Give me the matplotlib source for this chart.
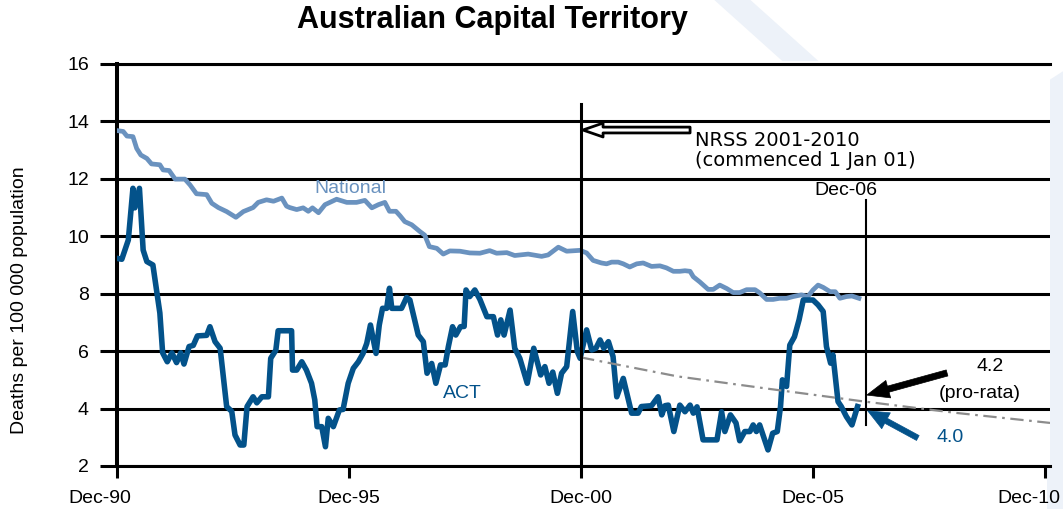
import matplotlib.pyplot as plt
from matplotlib.patches import Polygon
from matplotlib.transforms import ScaledTranslation

plt.rcParams["font.family"] = ["Liberation Sans", "DejaVu Sans"]

# Tasa móvil de 12 meses del ACT, vértices (años decimales)
act_years = [1990.92, 1991.02, 1991.16, 1991.26, 1991.30, 1991.40, 1991.48, 1991.56,
             1991.69, 1991.84, 1991.90, 1992.00, 1992.10, 1992.20, 1992.29, 1992.36,
             1992.47, 1992.56, 1992.65, 1992.85, 1992.92, 1993.03, 1993.14, 1993.28,
             1993.39, 1993.46, 1993.57, 1993.65, 1993.72, 1993.85, 1993.93, 1994.04,
             1994.18, 1994.23, 1994.34, 1994.39, 1994.68, 1994.70, 1994.79, 1994.90,
             1995.00, 1995.11, 1995.18, 1995.23, 1995.33, 1995.41, 1995.47, 1995.58,
             1995.71, 1995.79, 1995.90, 1996.01, 1996.12, 1996.22, 1996.30, 1996.38,
             1996.50, 1996.57, 1996.64, 1996.73, 1996.79, 1996.84, 1997.05, 1997.16,
             1997.23, 1997.41, 1997.52, 1997.60, 1997.70, 1997.79, 1997.89, 1997.99,
             1998.06, 1998.15, 1998.22, 1998.32, 1998.40, 1998.44, 1998.52, 1998.63,
             1998.74, 1998.89, 1999.03, 1999.12, 1999.19, 1999.26, 1999.39, 1999.49,
             1999.60, 1999.76, 1999.90, 2000.05, 2000.14, 2000.23, 2000.31, 2000.41,
             2000.50, 2000.61, 2000.74, 2000.84, 2000.90, 2001.04, 2001.15, 2001.24,
             2001.33, 2001.41, 2001.51, 2001.61, 2001.69, 2001.83, 2002.01, 2002.15,
             2002.22, 2002.44, 2002.58, 2002.66, 2002.73, 2002.80, 2002.92, 2003.05,
             2003.16, 2003.27, 2003.34, 2003.42, 2003.55, 2003.85, 2003.95, 2004.02,
             2004.14, 2004.26, 2004.34, 2004.45, 2004.56, 2004.63, 2004.70, 2004.77,
             2004.84, 2004.95, 2005.05, 2005.15, 2005.22, 2005.26, 2005.35, 2005.42,
             2005.52, 2005.62, 2005.71, 2005.92, 2006.03, 2006.14, 2006.21, 2006.30,
             2006.35, 2006.46, 2006.53, 2006.64, 2006.76, 2006.88]
act_rate = [9.23, 9.20, 9.87, 11.67, 10.99, 11.67, 9.52, 9.12,
            9.00, 7.33, 5.94, 5.63, 5.94, 5.60, 5.94, 5.55,
            6.16, 6.20, 6.53, 6.55, 6.85, 6.33, 6.10, 4.07,
            3.90, 3.08, 2.73, 2.73, 4.07, 4.41, 4.20, 4.41,
            4.41, 5.75, 6.03, 6.71, 6.71, 5.34, 5.34, 5.63,
            5.34, 4.88, 4.30, 3.37, 3.37, 2.67, 3.66, 3.37,
            3.95, 3.97, 4.88, 5.40, 5.63, 5.92, 6.27, 6.91,
            5.92, 6.91, 7.49, 7.49, 8.19, 7.49, 7.49, 7.87,
            7.78, 6.56, 6.33, 5.23, 5.57, 4.88, 5.52, 5.52,
            6.16, 6.85, 6.56, 6.85, 6.86, 8.13, 7.90, 8.13,
            7.80, 7.20, 7.20, 6.56, 7.09, 6.56, 7.43, 6.10,
            5.75, 4.88, 6.10, 5.17, 5.46, 4.88, 5.27, 4.53,
            5.23, 5.46, 7.38, 5.98, 5.75, 6.74, 6.04, 6.10,
            6.39, 6.10, 6.33, 5.81, 4.41, 5.05, 3.84, 3.84,
            4.07, 4.10, 4.41, 3.78, 4.10, 4.12, 3.20, 4.12,
            3.89, 4.12, 3.84, 4.06, 2.91, 2.91, 3.89, 3.20,
            3.78, 3.50, 2.88, 3.20, 3.20, 3.43, 3.20, 3.43,
            3.09, 2.56, 3.14, 3.20, 4.07, 5.00, 4.77, 6.21,
            6.50, 7.09, 7.78, 7.78, 7.61, 7.38, 6.16, 5.58,
            5.87, 4.24, 4.07, 3.72, 3.43, 4.07]

# Tasa nacional, misma lectura
national_years = [1990.92, 1991.05, 1991.13, 1991.26, 1991.34, 1991.43, 1991.56, 1991.66,
                  1991.84, 1991.91, 1992.04, 1992.17, 1992.38, 1992.49, 1992.63, 1992.85,
                  1992.96, 1993.10, 1993.28, 1993.48, 1993.64, 1993.85, 1993.96, 1994.14,
                  1994.29, 1994.47, 1994.57, 1994.64, 1994.79, 1994.93, 1995.04, 1995.13,
                  1995.26, 1995.40, 1995.65, 1995.87, 1996.08, 1996.26, 1996.41, 1996.55,
                  1996.69, 1996.79, 1996.93, 1997.02, 1997.12, 1997.27, 1997.45, 1997.55,
                  1997.65, 1997.81, 1997.95, 1998.09, 1998.31, 1998.52, 1998.74, 1998.95,
                  1999.10, 1999.32, 1999.49, 1999.78, 2000.07, 2000.21, 2000.43, 2000.61,
                  2000.90, 2001.04, 2001.18, 2001.36, 2001.47, 2001.58, 2001.72, 2001.83,
                  2001.97, 2002.12, 2002.26, 2002.44, 2002.62, 2002.76, 2002.91, 2003.05,
                  2003.16, 2003.27, 2003.34, 2003.48, 2003.66, 2003.77, 2003.91, 2004.06,
                  2004.20, 2004.34, 2004.49, 2004.67, 2004.77, 2004.92, 2005.06, 2005.20,
                  2005.35, 2005.49, 2005.67, 2005.81, 2005.92, 2006.03, 2006.14, 2006.29,
                  2006.40, 2006.50, 2006.64, 2006.76, 2006.91]
national_rate = [13.68, 13.65, 13.49, 13.47, 13.06, 12.83, 12.71, 12.52,
                 12.49, 12.31, 12.29, 11.99, 11.99, 11.79, 11.48, 11.45,
                 11.15, 11.00, 10.86, 10.66, 10.86, 11.00, 11.18, 11.27,
                 11.22, 11.33, 11.05, 11.00, 10.93, 10.99, 10.87, 10.99,
                 10.82, 11.10, 11.29, 11.18, 11.18, 11.25, 10.99, 11.10,
                 11.18, 10.87, 10.87, 10.71, 10.51, 10.40, 10.16, 10.04,
                 9.64, 9.58, 9.38, 9.49, 9.48, 9.42, 9.41, 9.50,
                 9.41, 9.43, 9.33, 9.38, 9.30, 9.35, 9.62, 9.48,
                 9.51, 9.42, 9.16, 9.07, 9.04, 9.10, 9.10, 9.04,
                 8.93, 9.04, 9.07, 8.95, 8.97, 8.90, 8.78, 8.78,
                 8.80, 8.78, 8.59, 8.41, 8.15, 8.15, 8.30, 8.18,
                 8.04, 8.04, 8.14, 8.14, 8.03, 7.80, 7.80, 7.84,
                 7.84, 7.90, 7.96, 7.90, 8.13, 8.30, 8.22, 8.07,
                 8.07, 7.84, 7.90, 7.92, 7.84]

# Trayectoria objetivo NRSS (pro-rata)
target_years = [2000.92, 2003.00, 2005.00, 2007.00, 2009.00, 2011.03]
target_rate = [5.78, 5.12, 4.68, 4.25, 3.85, 3.50]

tick_years = [1990.917, 1995.917, 2000.917, 2005.917, 2010.917]
tick_labels = ["Dec-90", "Dec-95", "Dec-00", "Dec-05", "Dec-10"]
y_ticks = [2, 4, 6, 8, 10, 12, 14, 16]

act_color = "#03528a"
national_color = "#6a92bf"

fig = plt.figure(figsize=(10.63, 5.09), dpi=100)

# Marca de agua tenue detrás de todo
wm = "#edf2f9"
for pts in ([(0.672, 1.0), (0.706, 1.0), (0.770, 0.88), (0.736, 0.88)],
            [(0.985, 0.84), (1.0, 0.86), (1.0, 0.0), (0.985, 0.0)]):
    fig.patches.append(Polygon(pts, closed=True, transform=fig.transFigure,
                               fc=wm, ec="none", zorder=-1))

ax = fig.add_axes([0.1101, 0.0845, 0.8777, 0.7898])
ax.patch.set_facecolor("white")

ax.plot(national_years, national_rate, color=national_color, lw=3.4,
        solid_joinstyle="round", zorder=3)
ax.plot(act_years, act_rate, color=act_color, lw=4.0,
        solid_joinstyle="round", zorder=3)
ax.plot(target_years, target_rate, color="#8c8c8c", lw=1.6,
        dashes=(6, 2.5, 1.2, 2.5), zorder=3)

ax.set_xlim(1990.917, 2011.03)
ax.set_ylim(2, 16)
ax.set_xticks(tick_years, tick_labels)
ax.set_yticks(y_ticks)
ax.yaxis.grid(True, color="black", lw=2.2)
ax.set_axisbelow(True)
ax.tick_params(axis="x", direction="out", length=8.6, width=2.2, pad=9, labelsize=14)
ax.tick_params(axis="y", direction="out", length=12.2, width=2.2, pad=8, labelsize=14)
ax.spines["right"].set_visible(False)
ax.spines["top"].set_linewidth(2.2)
ax.spines["bottom"].set_linewidth(2.2)
ax.spines["left"].set_linewidth(2.9)

# Las etiquetas extremas del eje x están corridas hacia adentro
labels = ax.get_xticklabels()
labels[0].set_transform(labels[0].get_transform() + ScaledTranslation(-0.17, 0, fig.dpi_scale_trans))
labels[-1].set_transform(labels[-1].get_transform() + ScaledTranslation(-0.16, 0, fig.dpi_scale_trans))

# Líneas verticales de referencia
ax.plot([2000.917, 2000.917], [14.61, 2], color="black", lw=2.2, zorder=4, clip_on=False)
ax.plot([2007.07, 2007.07], [11.27, 3.43], color="black", lw=1.5, zorder=4)

fig.text(0.463, 0.961, "Australian Capital Territory", ha="center", va="center",
         fontsize=22, fontweight="bold")
fig.text(0.0188, 0.41, "Deaths per 100 000 population", rotation=90,
         ha="center", va="center", fontsize=14)

ax.text(1995.94, 11.65, "National", color=national_color, fontsize=14, ha="center", va="center")
ax.text(1998.37, 4.54, "ACT", color=act_color, fontsize=14, ha="center", va="center")

ax.annotate("", xy=(2000.96, 13.70), xytext=(2003.27, 13.70),
            arrowprops=dict(arrowstyle="simple,head_length=1.45,head_width=1.0,tail_width=0.42",
                            fc="white", ec="black", lw=2.0, shrinkA=0, shrinkB=0), zorder=5)
ax.text(2003.37, 13.0, "NRSS 2001-2010\n(commenced 1 Jan 01)", family="DejaVu Sans",
        fontsize=14, ha="left", va="center", linespacing=1.05)
ax.text(2006.63, 11.58, "Dec-06", fontsize=14, ha="center", va="center")

ax.annotate("", xy=(2007.08, 4.47), xytext=(2008.81, 5.24),
            arrowprops=dict(arrowstyle="simple,head_length=1.6,head_width=1.3,tail_width=0.45",
                            fc="black", ec="black", lw=0.5, shrinkA=0, shrinkB=0), zorder=5)
ax.text(2009.73, 5.45, "4.2", fontsize=14, ha="center", va="center")
ax.text(2009.52, 4.54, "(pro-rata)", fontsize=14, ha="center", va="center")

ax.annotate("", xy=(2007.10, 3.92), xytext=(2008.18, 2.975),
            arrowprops=dict(arrowstyle="simple,head_length=1.5,head_width=1.3,tail_width=0.4",
                            fc=act_color, ec=act_color, lw=0.5, shrinkA=0, shrinkB=0), zorder=5)
ax.text(2008.87, 2.975, "4.0", color=act_color, fontsize=14, ha="center", va="center")

fig.savefig("out.png", dpi=100)
